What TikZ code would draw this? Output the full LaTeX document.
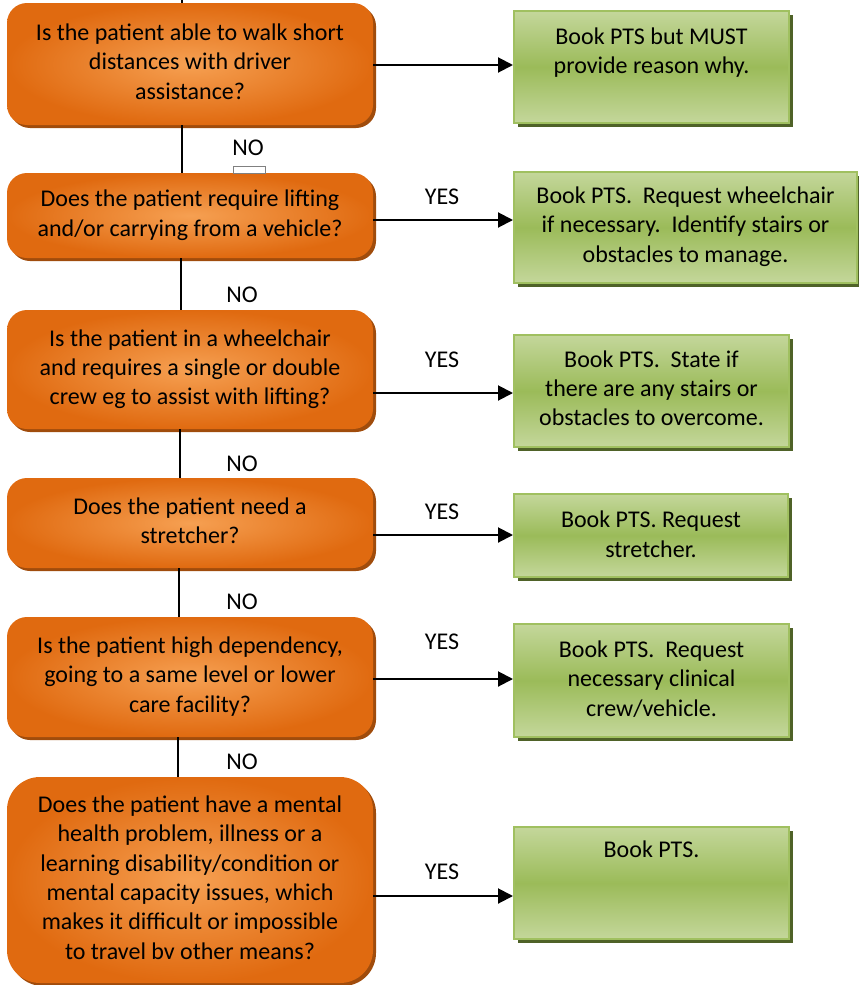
\documentclass[tikz,border=0pt]{standalone}
\usepackage{fontspec}
\setmainfont{Carlito}
\usetikzlibrary{arrows.meta,shadows}
\definecolor{orin}{RGB}{246,160,82}
\definecolor{orout}{RGB}{224,106,16}
\definecolor{orsh}{RGB}{160,76,12}
\definecolor{grlight}{RGB}{196,215,155}
\definecolor{grmid}{RGB}{155,187,89}
\definecolor{grborder}{RGB}{160,192,96}
\definecolor{grsh}{RGB}{79,98,40}
\begin{document}
\begin{tikzpicture}[x=1pt,y=-1pt,
  txt/.style={font=\fontsize{24}{29.3}\selectfont, align=center, inner sep=0pt, text=black},
  qbox/.style={txt, minimum width=366pt, rounded corners=20pt, inner color=orin, outer color=orout,
    drop shadow={shadow xshift=3pt, shadow yshift=-3pt, fill=orsh, opacity=1}},
  abox/.style={minimum width=275pt, inner sep=0pt, draw=grborder, line width=2pt,
    top color=grlight, bottom color=grlight, middle color=grmid,
    drop shadow={shadow xshift=4pt, shadow yshift=-4pt, fill=grsh, opacity=1}},
  arr/.style={line width=2pt, -{Triangle[length=15pt,width=15pt]}},
  vline/.style={line width=1.3pt},
  lbl/.style={txt}
]
\useasboundingbox (0,0) rectangle (859,985);

% question boxes
\node[qbox, minimum height=122pt] (O1) at (190,64) {\strut Is the patient able to walk short\\distances with driver\\assistance?\strut};
\node[qbox, minimum height=85pt] (O2) at (190,215.5) {\strut Does the patient require lifting\\and/or carrying from a vehicle?\strut};
\node[qbox, minimum height=119pt] (O3) at (190,369.5) {\strut Is the patient in a wheelchair\\and requires a single or double\\crew eg to assist with lifting?\strut};
\node[qbox, minimum height=90pt] (O4) at (190,523) {\strut Does the patient need a\\stretcher?\strut};
\node[qbox, minimum height=120pt] (O5) at (190,677) {\strut Is the patient high dependency,\\going to a same level or lower\\care facility?\strut};
\node[qbox, minimum height=206pt, rounded corners=33pt] (O6) at (190,880) {\strut Does the patient have a mental\\health problem, illness or a\\learning disability/condition or\\mental capacity issues, which\\makes it difficult or impossible\\to travel bv other means?\strut};

% answer boxes
\node[abox, minimum height=112pt] (G1) at (651.5,67) {};
\node[abox, minimum height=111pt, minimum width=343pt] (G2) at (685.5,227.5) {};
\node[abox, minimum height=112pt] (G3) at (651.5,391) {};
\node[abox, minimum height=83pt, minimum width=274pt] (G4) at (651,535.5) {};
\node[abox, minimum height=113pt] (G5) at (651.5,680.5) {};
\node[abox, minimum height=112pt] (G6) at (651.5,883) {};

\node[txt] (G1t) at (651.5,53) {\strut Book PTS but MUST\\provide reason why.\strut};
\node[txt] (G2t) at (685.5,227) {\strut Book PTS.\ \ Request wheelchair\\if necessary.\ \ Identify stairs or\\obstacles to manage.\strut};
\node[txt] (G3t) at (651.5,390.5) {\strut Book PTS.\ \ State if\\there are any stairs or\\obstacles to overcome.\strut};
\node[txt] (G4t) at (651,536.5) {\strut Book PTS. Request\\stretcher.\strut};
\node[txt] (G5t) at (651.5,681) {\strut Book PTS.\ \ Request\\necessary clinical\\crew/vehicle.\strut};
\node[txt] (G6t) at (651.5,852) {\strut Book PTS.\strut};

% small tag
\node[draw=gray, line width=0.5pt, fill=white, minimum width=32pt, minimum height=7pt, inner sep=0pt] (tag) at (249,169.5) {};

% labels
\node[lbl] (no1) at (248,148) {NO};
\node[lbl] (no2) at (242,295) {NO};
\node[lbl] (no3) at (242,464) {NO};
\node[lbl] (no4) at (242,602) {NO};
\node[lbl] (no5) at (242,762) {NO};
\node[lbl] (yes2) at (442,197) {YES};
\node[lbl] (yes3) at (442,360) {YES};
\node[lbl] (yes4) at (442,512) {YES};
\node[lbl] (yes5) at (442,642) {YES};
\node[lbl] (yes6) at (442,872) {YES};

% vertical connectors
\coordinate (top) at (182,0);
\draw[vline] (top) -- ([xshift=-8pt]O1.north);
\draw[vline] ([xshift=-8pt]O1.south) -- ([xshift=-8pt]O2.north);
\draw[vline] ([xshift=-9pt]O2.south) -- ([xshift=-9pt]O3.north);
\draw[vline] ([xshift=-10pt]O3.south) -- ([xshift=-10pt]O4.north);
\draw[vline] ([xshift=-11pt]O4.south) -- ([xshift=-11pt]O5.north);
\draw[vline] ([xshift=-12pt]O5.south) -- ([xshift=-12pt]O6.north);

% horizontal arrows
\coordinate (y1) at (0,65);
\coordinate (y2) at (0,220);
\coordinate (y3) at (0,393);
\coordinate (y4) at (0,535);
\coordinate (y5) at (0,679);
\coordinate (y6) at (0,896);
\draw[arr] (O1.east |- y1) -- (G1.west |- y1);
\draw[arr] (O2.east |- y2) -- (G2.west |- y2);
\draw[arr] (O3.east |- y3) -- (G3.west |- y3);
\draw[arr] (O4.east |- y4) -- (G4.west |- y4);
\draw[arr] (O5.east |- y5) -- (G5.west |- y5);
\draw[arr] (O6.east |- y6) -- (G6.west |- y6);
\end{tikzpicture}
\end{document}
